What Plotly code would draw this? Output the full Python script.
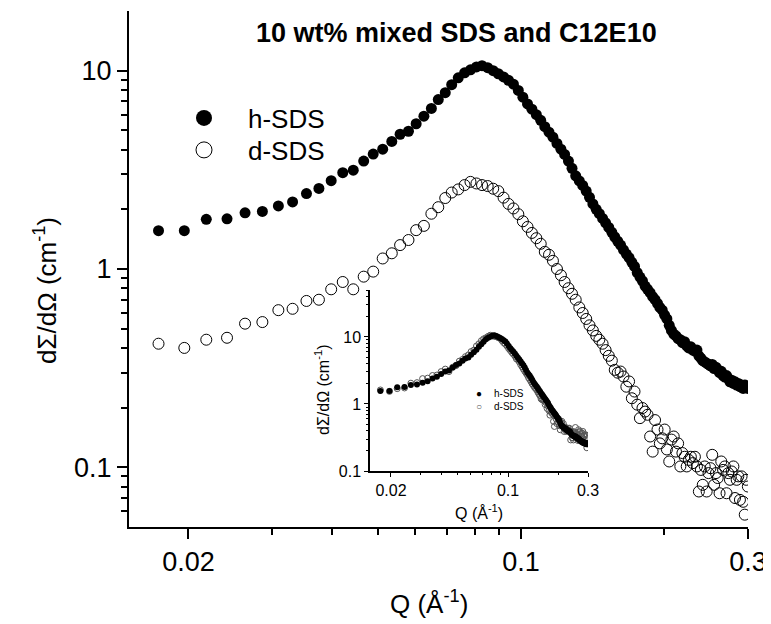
import plotly.graph_objects as go

# scattering vector Q (1/A)
q = [0.0173, 0.0196, 0.0218, 0.0241, 0.0263, 0.0286, 0.0309, 0.0331, 0.0354, 0.0376,
     0.0399, 0.0422, 0.0444, 0.0467, 0.0489, 0.0512, 0.0535, 0.0557, 0.0580, 0.0602,
     0.0625, 0.0648, 0.0670, 0.0693, 0.0715, 0.0738, 0.0761, 0.0783, 0.0806, 0.0828,
     0.0851, 0.0874, 0.0896, 0.0919, 0.0941, 0.0964, 0.0987, 0.1009, 0.1032, 0.1054,
     0.1077, 0.1100, 0.1122, 0.1145, 0.1167, 0.1190, 0.1213, 0.1235, 0.1258, 0.1280,
     0.1303, 0.1326, 0.1348, 0.1371, 0.1393, 0.1416, 0.1439, 0.1461, 0.1484, 0.1506,
     0.1529, 0.1552, 0.1574, 0.1597, 0.1619, 0.1642, 0.1665, 0.1687, 0.1710, 0.1732,
     0.1755, 0.1778, 0.1800, 0.1823, 0.1845, 0.1868, 0.1891, 0.1913, 0.1936, 0.1958,
     0.1981, 0.2004, 0.2026, 0.2049, 0.2071, 0.2094, 0.2117, 0.2139, 0.2162, 0.2184,
     0.2207, 0.2230, 0.2252, 0.2275, 0.2297, 0.2320, 0.2343, 0.2365, 0.2388, 0.2410,
     0.2433, 0.2456, 0.2478, 0.2501, 0.2523, 0.2546, 0.2569, 0.2591, 0.2614, 0.2636,
     0.2659, 0.2682, 0.2704, 0.2727, 0.2749, 0.2772, 0.2795, 0.2817, 0.2840, 0.2862,
     0.2885, 0.2908, 0.2930, 0.2953, 0.2975, 0.2998]

# h-SDS intensity (1/cm)
h_sds = [1.56, 1.56, 1.78, 1.79, 1.92, 1.95, 2.08, 2.18, 2.40, 2.55,
         2.79, 3.06, 3.15, 3.50, 3.80, 4.02, 4.40, 4.78, 4.95, 5.40,
         5.90, 6.45, 7.15, 7.75, 8.50, 9.20, 9.75, 10.1, 10.45, 10.6,
         10.35, 10.0, 9.65, 9.30, 8.95, 8.55, 7.95, 7.35, 6.80, 6.40,
         6.00, 5.62, 5.22, 4.90, 4.62, 4.30, 4.02, 3.78, 3.50, 3.22,
         2.95, 2.78, 2.64, 2.47, 2.30, 2.13, 2.00, 1.90, 1.80, 1.71,
         1.62, 1.53, 1.45, 1.38, 1.32, 1.25, 1.19, 1.14, 1.08, 1.03,
         0.96, 0.91, 0.87, 0.82, 0.79, 0.76, 0.725, 0.70, 0.67, 0.64,
         0.62, 0.585, 0.56, 0.52, 0.49, 0.47, 0.46, 0.445, 0.44, 0.425,
         0.43, 0.41, 0.40, 0.405, 0.39, 0.385, 0.39, 0.365, 0.355, 0.345,
         0.34, 0.335, 0.33, 0.325, 0.33, 0.315, 0.32, 0.31, 0.30, 0.305,
         0.29, 0.285, 0.29, 0.28, 0.27, 0.275, 0.265, 0.27, 0.26, 0.265,
         0.255, 0.26, 0.25, 0.26, 0.255, 0.25]

# d-SDS intensity (1/cm)
d_sds = [0.42, 0.40, 0.44, 0.45, 0.53, 0.54, 0.62, 0.63, 0.69, 0.70,
         0.79, 0.86, 0.79, 0.915, 0.97, 1.13, 1.20, 1.32, 1.40, 1.57,
         1.65, 1.90, 2.05, 2.28, 2.43, 2.52, 2.65, 2.75, 2.70, 2.65,
         2.62, 2.54, 2.47, 2.29, 2.13, 2.02, 1.89, 1.74, 1.63, 1.52,
         1.43, 1.34, 1.22, 1.18, 1.10, 1.00, 0.93, 0.86, 0.80, 0.75,
         0.70, 0.64, 0.60, 0.56, 0.52, 0.49, 0.46, 0.44, 0.42, 0.39,
         0.365, 0.345, 0.31, 0.30, 0.304, 0.287, 0.255, 0.271, 0.223, 0.241,
         0.207, 0.177, 0.199, 0.191, 0.184, 0.143, 0.120, 0.173, 0.155, 0.132,
         0.140, 0.155, 0.123, 0.107, 0.138, 0.143, 0.120, 0.132, 0.101, 0.118,
         0.113, 0.101, 0.109, 0.113, 0.105, 0.113, 0.101, 0.0755, 0.097, 0.0816,
         0.101, 0.0755, 0.0935, 0.099, 0.1156, 0.0816, 0.0935, 0.0883, 0.074, 0.107,
         0.097, 0.101, 0.074, 0.0935, 0.0865, 0.0953, 0.101, 0.070, 0.0865, 0.090,
         0.0685, 0.090, 0.067, 0.0577, 0.0865, 0.080]

# inset: d-SDS rescaled onto h-SDS
d_scale = 3.85
d_scaled = [v * d_scale for v in d_sds]

FONT = "Arial, Liberation Sans, sans-serif"

# the page body has an 8px margin, so the figure is shrunk by that much
PAGE_OFF = 8


def px_x(p):
    # page pixel column -> paper x
    return (p - 129) / 619


def px_y(p):
    # page pixel row -> paper y
    return (527 - p) / 516


fig = go.Figure()

# main panel
fig.add_trace(go.Scatter(x=q, y=h_sds, mode="markers", showlegend=False,
                         marker=dict(symbol="circle", size=11, color="black")))
fig.add_trace(go.Scatter(x=q, y=d_sds, mode="markers", showlegend=False,
                         marker=dict(symbol="circle-open", size=11, color="black",
                                     line=dict(width=1, color="black"))))
# legend entries (bigger symbols, as in the original)
fig.add_trace(go.Scatter(x=[None], y=[None], mode="markers", name="h-SDS", legend="legend",
                         marker=dict(symbol="circle", size=16, color="black")))
fig.add_trace(go.Scatter(x=[None], y=[None], mode="markers", name="d-SDS", legend="legend2",
                         marker=dict(symbol="circle-open", size=16, color="black",
                                     line=dict(width=1, color="black"))))

# inset
fig.add_trace(go.Scatter(x=q, y=d_scaled, mode="markers", showlegend=False,
                         xaxis="x2", yaxis="y2",
                         marker=dict(symbol="circle-open", size=6, color="#555",
                                     line=dict(width=1, color="#555"))))
fig.add_trace(go.Scatter(x=q, y=h_sds, mode="markers", showlegend=False,
                         xaxis="x2", yaxis="y2",
                         marker=dict(symbol="circle", size=6, color="black")))

x_minor = [0.03, 0.04, 0.05, 0.06, 0.07, 0.08, 0.09, 0.2]
y_minor = [0.06, 0.07, 0.08, 0.09, 0.2, 0.3, 0.4, 0.5, 0.6, 0.7, 0.8, 0.9,
           2, 3, 4, 5, 6, 7, 8, 9]
y2_minor = y_minor[4:] + [20, 30, 40, 50]

axis_common = dict(type="log", showline=True, linecolor="black", showgrid=False,
                   zeroline=False, ticks="outside", tickcolor="black", automargin=False)

legend_common = dict(xanchor="left", yanchor="middle", bgcolor="rgba(0,0,0,0)",
                     font=dict(size=26), itemsizing="trace", itemwidth=78)

fig.update_layout(
    width=771 - PAGE_OFF, height=624 - PAGE_OFF,
    margin=dict(l=129 - PAGE_OFF, r=23, t=11 - PAGE_OFF, b=97),
    plot_bgcolor="rgba(0,0,0,0)", paper_bgcolor="white",
    font=dict(family=FONT, color="black"),
    xaxis=dict(**axis_common, range=[-1.824, -0.5229], linewidth=2, tickwidth=2,
               ticklen=10, tickvals=[0.02, 0.1, 0.3], ticktext=["0.02", "0.1", "0.3"],
               tickfont=dict(size=27),
               minor=dict(tickvals=x_minor, ticks="outside", ticklen=6, tickwidth=2,
                          tickcolor="black")),
    yaxis=dict(**axis_common, range=[-1.301, 1.301], linewidth=2, tickwidth=2,
               ticklen=10, tickvals=[0.1, 1, 10], ticktext=["0.1", "1", "10"],
               tickfont=dict(size=27),
               minor=dict(tickvals=y_minor, ticks="outside", ticklen=6, tickwidth=2,
                          tickcolor="black")),
    xaxis2=dict(**axis_common, domain=[px_x(370), px_x(588)], anchor="y2",
                range=[-1.824, -0.5229], linewidth=1.5, tickwidth=1, ticklen=4,
                tickvals=[0.02, 0.1, 0.3], ticktext=["0.02", "0.1", "0.3"],
                tickfont=dict(size=16),
                minor=dict(tickvals=x_minor, ticks="outside", ticklen=2, tickwidth=1,
                           tickcolor="black")),
    yaxis2=dict(**axis_common, domain=[px_y(471), px_y(290)], anchor="x2", range=[-1, 1.70],
                linewidth=1.5, tickwidth=1, ticklen=4,
                tickvals=[0.1, 1, 10], ticktext=["0.1", "1", "10"],
                tickfont=dict(size=16),
                minor=dict(tickvals=y2_minor, ticks="outside", ticklen=2, tickwidth=1,
                           tickcolor="black")),
    legend=dict(**legend_common, x=px_x(160), y=px_y(118)),
    legend2=dict(**legend_common, x=px_x(160), y=px_y(150)),
    annotations=[
        dict(text="<b>10 wt% mixed SDS and C12E10</b>", xref="paper", yref="paper",
             x=px_x(456), y=px_y(33), xanchor="center", yanchor="middle", showarrow=False,
             font=dict(size=27)),
        dict(text="dΣ/dΩ (cm<sup>-1</sup>)", xref="paper", yref="paper",
             x=px_x(45), y=px_y(291), xanchor="center", yanchor="middle", textangle=-90,
             showarrow=False, font=dict(size=26)),
        dict(text="Q (Å<sup>-1</sup>)", xref="paper", yref="paper",
             x=px_x(429), y=px_y(602), xanchor="center", yanchor="middle", showarrow=False,
             font=dict(size=26)),
        dict(text="dΣ/dΩ (cm<sup>-1</sup>)", xref="paper", yref="paper",
             x=px_x(322), y=px_y(390), xanchor="center", yanchor="middle",
             textangle=-90, showarrow=False, font=dict(size=16)),
        dict(text="Q (Å<sup>-1</sup>)", xref="paper", yref="paper",
             x=px_x(479), y=px_y(512), xanchor="center", yanchor="middle",
             showarrow=False, font=dict(size=16)),
        # inset legend
        dict(text="●", xref="paper", yref="paper", x=px_x(479), y=px_y(393),
             xanchor="center", yanchor="middle", showarrow=False, font=dict(size=10)),
        dict(text="○", xref="paper", yref="paper", x=px_x(479), y=px_y(406),
             xanchor="center", yanchor="middle", showarrow=False,
             font=dict(size=10, color="#555")),
        dict(text="h-SDS", xref="paper", yref="paper", x=px_x(492), y=px_y(393),
             xanchor="left", yanchor="middle", showarrow=False, font=dict(size=10)),
        dict(text="d-SDS", xref="paper", yref="paper", x=px_x(492), y=px_y(406),
             xanchor="left", yanchor="middle", showarrow=False, font=dict(size=10)),
    ],
)

fig.write_html("out.html")
